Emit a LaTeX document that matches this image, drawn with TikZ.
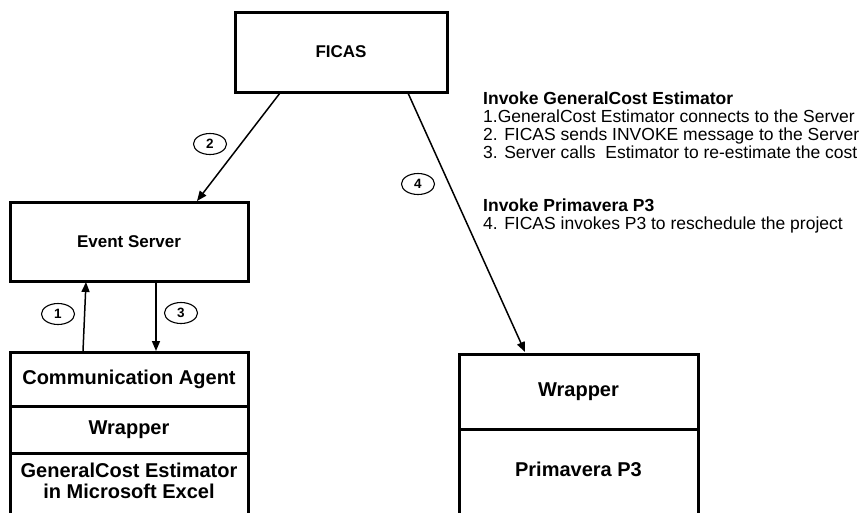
\documentclass[tikz,border=0pt]{standalone}
\usepackage{fontspec}
\setmainfont{Liberation Sans}
\usetikzlibrary{arrows.meta,shapes.geometric}
\begin{document}
\begin{tikzpicture}[x=1pt,y=-1pt,
  box/.style={draw,line width=3pt,rectangle,inner sep=0pt,font=\bfseries\fontsize{17}{19}\selectfont},
  stacklbl/.style={font=\bfseries\fontsize{20}{21}\selectfont,align=center,inner sep=0pt},
  conn/.style={line width=1.5pt,-{Triangle[length=10pt,width=8pt]}},
  tag/.style={draw,ellipse,line width=1.1pt,minimum width=33pt,minimum height=21pt,inner sep=0pt,font=\bfseries\fontsize{13.5}{13.5}\selectfont},
  note/.style={anchor=base west,inner sep=0pt,font=\fontsize{17.5}{18}\selectfont},
  notehead/.style={note,font=\bfseries\fontsize{17.5}{18}\selectfont}]
\useasboundingbox (0,0) rectangle (863,512);
\begin{scope}
\clip (0,0) rectangle (863,512);
% boxes
\node[box,minimum width=212pt,minimum height=80pt] (ficas) at (341,52) {FICAS};
\node[box,minimum width=238pt,minimum height=79pt] (server) at (129,241.5) {Event Server};
% left stack
\node[box,minimum width=238pt,minimum height=54pt] (comm) at (129,379) {};
\node[box,minimum width=238pt,minimum height=47pt] (lwrap) at (129,429.5) {};
\node[box,minimum width=238pt,minimum height=80pt] (est) at (129,493) {};
\node[stacklbl] (commlbl) at (129,379) {Communication Agent};
\node[stacklbl] (lwraplbl) at (129,429.5) {Wrapper};
\node[stacklbl] (estlbl) at (129,481) {GeneralCost Estimator\\in Microsoft Excel};
% right stack
\node[box,minimum width=239pt,minimum height=75pt] (rwrap) at (578.5,391.5) {};
\node[box,minimum width=239pt,minimum height=100pt] (prim) at (578.5,479) {};
\node[stacklbl] (rwraplbl) at (578.5,391.5) {Wrapper};
\node[stacklbl] (primlbl) at (578.5,469) {Primavera P3};
\end{scope}
% connector ends
\coordinate (f2) at (280,93);
\coordinate (s2) at (197,201);
\coordinate (f4) at (408,93);
\coordinate (p4) at (525,352);
\coordinate (c1) at (83,351);
\coordinate (s1) at (86,282);
\coordinate (s3) at (156,282);
\coordinate (c3) at (156,351);
\draw[conn] (f2) -- (s2);
\draw[conn] (f4) -- (p4);
\draw[conn] (c1) -- (s1);
\draw[conn] (s3) -- (c3);
% tags
\node[tag] (t1) at (58,314) {1};
\node[tag] (t2) at (210,144) {2};
\node[tag] (t3) at (181,313) {3};
\node[tag] (t4) at (418,184) {4};
% notes
\node[notehead] (n0) at (483,104) {Invoke GeneralCost Estimator};
\node[note] (n1) at (483,122) {1.GeneralCost Estimator connects to the Server};
\node[note] (n2) at (483,140) {2. FICAS sends INVOKE message to the Server};
\node[note] (n3) at (483,158) {3. Server calls\ \ Estimator to re-estimate the cost};
\node[notehead] (n4) at (483,211) {Invoke Primavera P3};
\node[note] (n5) at (483,229) {4. FICAS invokes P3 to reschedule the project};
\end{tikzpicture}
\end{document}
